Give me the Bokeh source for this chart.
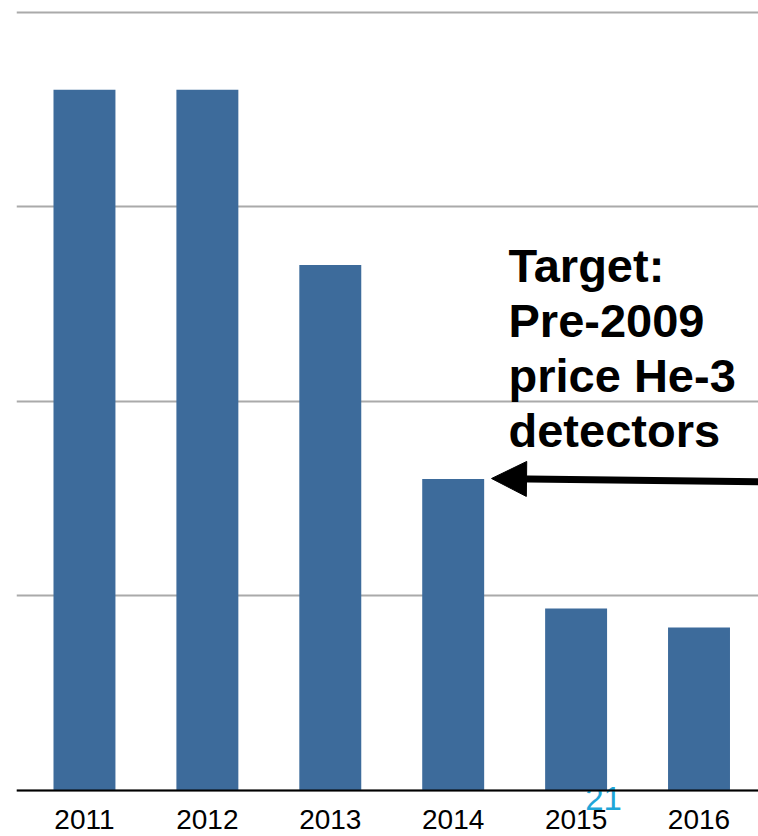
from bokeh.plotting import figure
from bokeh.models import Range1d, FixedTicker, Label, Arrow, NormalHead, ColumnDataSource
from bokeh.core.properties import value
from bokeh.embed import file_html
from bokeh.resources import INLINE

years = ["2011", "2012", "2013", "2014", "2015", "2016"]
prices = [3.60, 3.60, 2.70, 1.60, 0.935, 0.838]
grid_levels = [0, 1, 2, 3, 4]
annotation_lines = ["Target:", "Pre-2009", "price He-3", "detectors"]
page_number = "21"

xs = list(range(len(years)))
src = ColumnDataSource(dict(x=xs, top=prices))

p = figure(width=758, height=836, output_backend="svg", toolbar_location=None,
           x_range=Range1d(-0.553, 5.484), y_range=Range1d(-0.2364, 4.018),
           min_border_left=16, min_border_right=0, min_border_top=8, min_border_bottom=0)
p.outline_line_color = None
p.background_fill_color = "white"
p.border_fill_color = "white"

# page number, drawn first so the bars and the baseline cover its top
p.text(x=[4.223], y=[-0.041], text=[page_number], text_align="center",
       text_baseline="alphabetic", text_font=value("Liberation Sans"),
       text_font_size="33px", text_color="#1fa6d8")

p.vbar(x="x", top="top", width=0.504, bottom=0, source=src,
       fill_color="#3d6b9b", line_color=None)

p.yaxis.visible = False
p.ygrid.ticker = FixedTicker(ticks=grid_levels)
p.ygrid.grid_line_color = "#aaaaaa"
p.ygrid.grid_line_width = 2
p.xgrid.visible = False

ax = p.xaxis[0]
ax.fixed_location = 0
ax.ticker = FixedTicker(ticks=xs)
ax.major_label_overrides = {i: y for i, y in zip(xs, years)}
ax.axis_line_color = "black"
ax.axis_line_width = 2
ax.major_tick_line_color = None
ax.minor_tick_line_color = None
ax.major_tick_out = 0
ax.major_tick_in = 0
ax.major_label_standoff = 20
ax.major_label_text_font = "Liberation Sans"
ax.major_label_text_font_size = "28px"
ax.major_label_text_color = "black"

baselines = [2.698, 2.415, 2.133, 1.850]
for line, yb in zip(annotation_lines, baselines):
    p.add_layout(Label(x=3.45, y=yb, text=line, text_align="left",
                       text_baseline="alphabetic", text_font="Liberation Sans",
                       text_font_style="bold", text_font_size="47px", text_color="black"))

p.add_layout(Arrow(end=NormalHead(size=35, fill_color="black", line_color="black", line_width=1),
                   x_start=5.7, y_start=1.585, x_end=3.312, y_end=1.603,
                   line_width=7, line_color="black"))

open("out.html", "w").write(file_html(p, INLINE))
